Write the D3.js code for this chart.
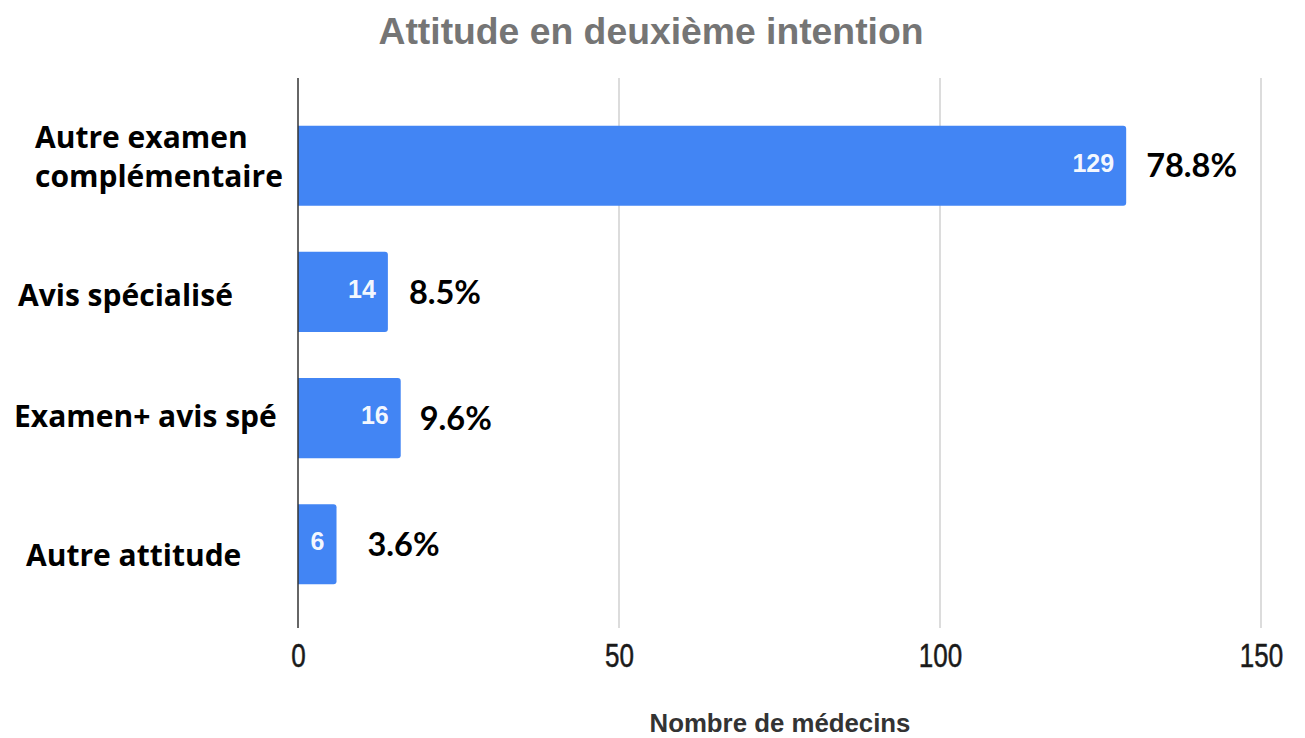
<!DOCTYPE html>
<html><head><meta charset="utf-8">
<script src="https://cdn.jsdelivr.net/npm/d3@7"></script>
<style>body{margin:0;background:#fff}svg{display:block}</style>
</head><body>
<svg id="c" width="1305" height="738"></svg>
<script>
const categories = ["Autre examen complémentaire", "Avis spécialisé", "Examen+ avis spé", "Autre attitude"];
const counts = [129, 14, 16, 6];
const percentLabels = ["78.8%", "8.5%", "9.6%", "3.6%"];
const xTicks = [0, 50, 100, 150];
const title = "Attitude en deuxième intention";
const xTitle = "Nombre de médecins";

// layout of the free-standing text boxes of the original
const labelLines = [["Autre examen", "complémentaire"], ["Avis spécialisé"], ["Examen+ avis spé"], ["Autre attitude"]];
const labelLeft = [35, 18, 14, 26];
const labelBaseOffset = [[-18, 21], [14], [9], [22]];
const pctGap = [20, 21, 19, 31];

const svg = d3.select("#c");
const x = d3.scaleLinear().domain([0, 150]).range([298, 1261]);
const y = d3.scaleBand().domain(categories).range([103, 607]).paddingInner(0.365).paddingOuter(0.18);
const gridTop = 78, gridBottom = 628;

svg.append("text").attr("x", 651).attr("y", 44).attr("text-anchor", "middle")
  .attr("font-family", "Liberation Sans, Arial, sans-serif").attr("font-weight", "bold")
  .attr("font-size", 37.3).attr("fill", "#757575").text(title);

svg.append("g").selectAll("line").data(xTicks.filter(d => d > 0)).join("line")
  .attr("x1", d => x(d)).attr("x2", d => x(d)).attr("y1", gridTop).attr("y2", gridBottom)
  .attr("stroke", "#d0d0d0").attr("stroke-width", 1.5);

const xAxis = svg.append("g").attr("transform", `translate(0,${gridBottom})`)
  .call(d3.axisBottom(x).tickValues(xTicks).tickSize(0));
xAxis.select(".domain").remove();
xAxis.selectAll("text").attr("font-family", "Liberation Sans, Arial, sans-serif")
  .attr("font-size", 26).attr("fill", "#1a1a1a").attr("y", 0).attr("dy", 0)
  .attr("stroke", "#1a1a1a").attr("stroke-width", 0.4)
  .attr("transform", "translate(0,39) scale(1,1.25)");

svg.append("text").attr("x", 780).attr("y", 732).attr("text-anchor", "middle")
  .attr("font-family", "Liberation Sans, Arial, sans-serif").attr("font-weight", "bold")
  .attr("font-size", 25.8).attr("fill", "#333").text(xTitle);

const bw = y.bandwidth();
svg.append("g").selectAll("path").data(categories).join("path")
  .attr("fill", "#4285F4")
  .attr("d", (d, i) => {
    const x0 = x(0), x1 = x(counts[i]), y0 = y(d), r = 3;
    return `M${x0},${y0}H${x1 - r}Q${x1},${y0} ${x1},${y0 + r}V${y0 + bw - r}Q${x1},${y0 + bw} ${x1 - r},${y0 + bw}H${x0}Z`;
  });

svg.append("line").attr("x1", x(0)).attr("x2", x(0)).attr("y1", gridTop).attr("y2", gridBottom)
  .attr("stroke", "#333").attr("stroke-width", 1.5);

svg.append("g").selectAll("text").data(categories).join("text")
  .attr("x", (d, i) => x(counts[i]) - 12).attr("y", d => y(d) + bw / 2 + 6)
  .attr("text-anchor", "end").attr("font-family", "Liberation Sans, Arial, sans-serif")
  .attr("font-weight", "bold").attr("font-size", 25).attr("fill", "#fff").attr("fill-opacity", 0.95)
  .text((d, i) => counts[i]);

svg.append("g").selectAll("text").data(categories).join("text")
  .attr("x", (d, i) => x(counts[i]) + pctGap[i]).attr("y", d => y(d) + bw / 2).attr("dy", "0.36em")
  .attr("font-family", "Lato, Open Sans, sans-serif").attr("font-weight", "bold")
  .attr("font-size", 32.5).attr("fill", "#000").text((d, i) => percentLabels[i]);

const lab = svg.append("g").selectAll("text").data(categories).join("text")
  .attr("font-family", "Open Sans, Lato, sans-serif").attr("font-weight", "bold")
  .attr("font-size", 30).attr("fill", "#000");
lab.each(function(d, i) {
  const cy = y(d) + bw / 2;
  d3.select(this).selectAll("tspan").data(labelLines[i]).join("tspan")
    .attr("x", labelLeft[i]).attr("y", (l, j) => cy + labelBaseOffset[i][j]).text(l => l);
});
</script>
</body></html>
